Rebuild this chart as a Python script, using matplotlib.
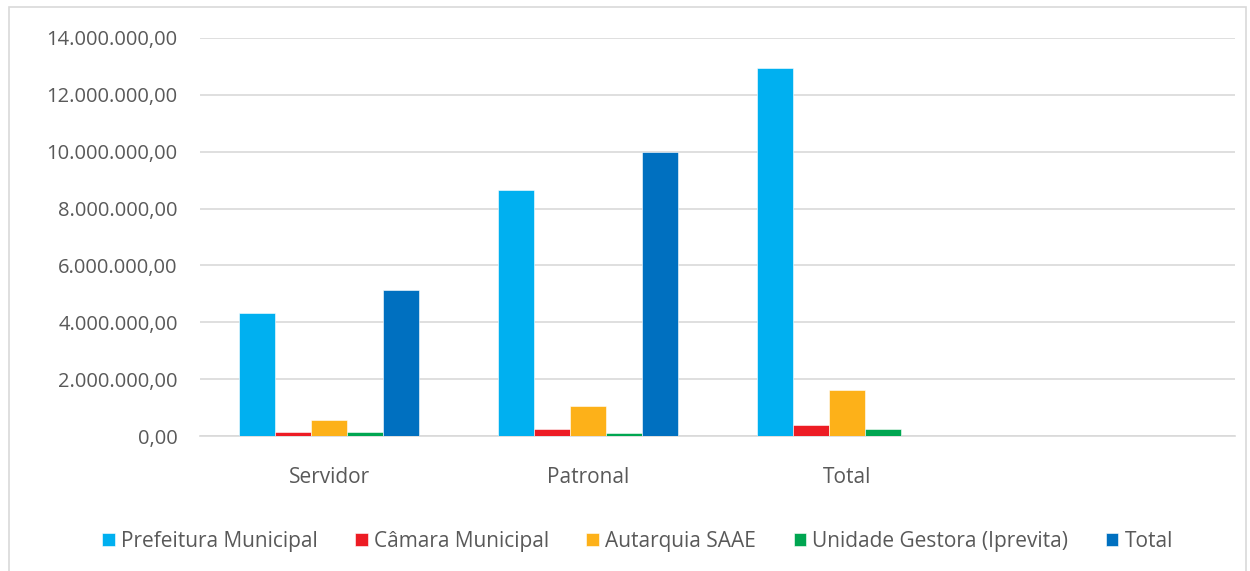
import matplotlib.pyplot as plt
import numpy as np
from matplotlib.patches import Rectangle

categories = ['Servidor', 'Patronal', 'Total', '']
series = ['Prefeitura Municipal', 'Câmara Municipal', 'Autarquia SAAE',
          'Unidade Gestora (Iprevita)', 'Total']
prefeitura = [4320000, 8640000, 12930000, 0]
camara = [150000, 250000, 390000, 0]
autarquia = [560000, 1060000, 1620000, 0]
unidade = [150000, 90000, 250000, 0]
total = [5120000, 10000000, 0, 0]
colors = ['#00b0f0', '#ed1c24', '#fdb119', '#00a651', '#0070c0']

values = [prefeitura, camara, autarquia, unidade, total]


def fmt(v, pos=None):
    s = f'{v:,.2f}'
    return s.replace(',', 'X').replace('.', ',').replace('X', '.')


plt.rcParams['font.family'] = ['Open Sans', 'DejaVu Sans']

fig = plt.figure(figsize=(12.5, 5.71), dpi=100)
ax = fig.add_axes([0.16, 0.2364, 0.828, 0.6971])

x = np.arange(len(categories))
w = 0.139
for i, (name, vals) in enumerate(zip(series, values)):
    ax.bar(x + (i - 2) * w, vals, w, color=colors[i], label=name,
           edgecolor='white', linewidth=0.4, zorder=3)

ax.set_xlim(-0.5, len(categories) - 0.5)
ax.set_ylim(0, 14000000)
ax.set_yticks(np.arange(0, 14000001, 2000000))
ax.yaxis.set_major_formatter(plt.FuncFormatter(fmt))
ax.set_xticks(x)
ax.set_xticklabels(categories)
ax.grid(axis='y', color='#d9d9d9', linewidth=1.2, zorder=0)
for s in ['top', 'right', 'left']:
    ax.spines[s].set_visible(False)
ax.spines['bottom'].set_color('#d9d9d9')
ax.spines['bottom'].set_linewidth(1.2)
ax.tick_params(axis='both', length=0, colors='#595959')
ax.tick_params(axis='y', pad=16, labelsize=14.5)
ax.tick_params(axis='x', pad=22, labelsize=15)

fig.legend(loc='center', bbox_to_anchor=(0.51, 0.052), ncol=5, frameon=False,
           fontsize=15, handlelength=0.6, handleheight=0.6, handletextpad=0.3,
           columnspacing=1.8, labelcolor='#595959')

fig.patches.append(Rectangle((0.007, -0.01), 0.99, 0.997, transform=fig.transFigure,
                             fill=False, edgecolor='#d9d9d9', linewidth=1.2))

plt.savefig('out.png', dpi=100)
